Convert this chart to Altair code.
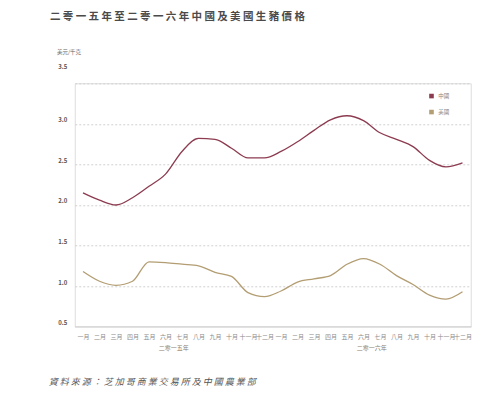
import altair as alt
import pandas as pd

months = ["一月", "二月", "三月", "四月", "五月", "六月", "七月", "八月", "九月", "十月", "十一月", "十二月"]
years = ["二零一五年", "二零一六年"]
series_names = ["中國", "美國"]
china = [2.15, 2.06, 2.00, 2.09, 2.23, 2.38, 2.66, 2.82, 2.81, 2.70, 2.58, 2.58,
         2.66, 2.78, 2.92, 3.05, 3.10, 3.04, 2.89, 2.81, 2.72, 2.55, 2.47, 2.52]
usa = [1.18, 1.06, 1.01, 1.06, 1.30, 1.29, 1.27, 1.25, 1.17, 1.12, 0.92, 0.87,
       0.94, 1.05, 1.09, 1.13, 1.27, 1.34, 1.27, 1.13, 1.02, 0.89, 0.84, 0.93]
y_ticks = [0.5, 1.0, 1.5, 2.0, 2.5, 3.0, 3.5]
title_text = "二零一五年至二零一六年中國及美國生豬價格"
unit_text = "美元/千克"
source_text = "資料來源：芝加哥商業交易所及中國農業部"

line_colors = ["#8c3b50", "#b39d72"]

n = len(china)
rows = []
for i in range(n):
    rows.append({"idx": i, "series": series_names[0], "value": china[i]})
for i in range(n):
    rows.append({"idx": i, "series": series_names[1], "value": usa[i]})
df = pd.DataFrame(rows)

year_df = pd.DataFrame({"idx": [5.5, 17.5], "label": years})

W = 396
H = 243.4
FONT = "Noto Sans CJK TC"

month_js = "[" + ",".join("'" + m + "'" for m in months) + "]"

x_scale = alt.Scale(domain=[-0.5, n - 0.5], nice=False, zero=False)
x_axis = alt.Axis(
    values=list(range(n)),
    labelExpr=month_js + "[datum.value % 12]",
    title=None, domain=False, ticks=False, grid=False,
    labelFontSize=6, labelColor="#8a8a8a", labelFont=FONT,
    labelPadding=7, labelBaseline="top", labelFlush=False,
    labelOverlap=False, labelBound=False,
)
y_enc = alt.Y(
    "value:Q",
    scale=alt.Scale(domain=[0.5, 3.5], nice=False, zero=False),
    axis=alt.Axis(
        values=y_ticks, format=".1f", title=None, domain=False, ticks=False,
        labelFontSize=6, labelColor="#555555", labelFontWeight="bold",
        labelFont=FONT, labelPadding=8,
        labelOffset={"condition": {"test": "datum.value == 3.5", "value": -17}, "value": -4},
        grid=True, gridColor="#d0d0d0", gridWidth=1,
        gridDash={"condition": {"test": "datum.value == 0.5", "value": []}, "value": [2, 2]},
    ),
)

lines = alt.Chart(df).mark_line(interpolate="monotone", strokeWidth=1.3).encode(
    x=alt.X("idx:Q", scale=x_scale, axis=x_axis),
    y=y_enc,
    stroke=alt.Stroke(
        "series:N",
        scale=alt.Scale(domain=series_names, range=line_colors),
        legend=alt.Legend(
            title=None, orient="none", legendX=354, legendY=10,
            symbolType="square", symbolSize=4, symbolStrokeWidth=2.6,
            labelFontSize=5.5, labelColor="#888888", labelFont=FONT,
            rowPadding=3, padding=0, labelOffset=4,
        ),
    ),
)

year_text = alt.Chart(year_df).mark_text(
    fontSize=6, color="#8a8070", font=FONT, baseline="middle", align="center"
).encode(x=alt.X("idx:Q", scale=x_scale, axis=x_axis), y=alt.value(H + 21.3), text="label:N")

title_df = pd.DataFrame({"t": [" ".join(title_text)]})
title_mark = alt.Chart(title_df).mark_text(
    fontSize=10.5, fontWeight="bold", color="#4a4a4a", font=FONT,
    align="left", baseline="middle",
).encode(x=alt.value(-24.75), y=alt.value(-66), text="t:N")

unit_df = pd.DataFrame({"t": [unit_text]})
unit_mark = alt.Chart(unit_df).mark_text(
    fontSize=5.5, color="#666666", font=FONT, align="left", baseline="middle",
).encode(x=alt.value(-17.75), y=alt.value(-31), text="t:N")

src_df = pd.DataFrame({"t": [" ".join(source_text)]})
src_mark = alt.Chart(src_df).mark_text(
    fontSize=9, fontStyle="italic", color="#555555", font=FONT,
    align="left", baseline="middle",
).encode(x=alt.value(-26), y=alt.value(298.4), text="t:N")

chart = alt.layer(
    lines, year_text, title_mark, unit_mark, src_mark
).properties(
    width=W, height=H,
    autosize=alt.AutoSizeParams(type="none"),
    padding={"left": 66.75, "top": 75.3, "right": 23, "bottom": 63},
).configure_view(stroke=None).configure(background="white")

chart.save("out.html", embed_options={"renderer": "svg", "actions": False})
